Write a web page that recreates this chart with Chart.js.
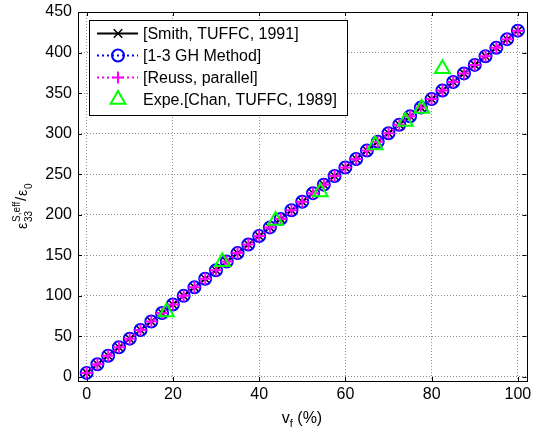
<!DOCTYPE html>
<html>
<head>
<meta charset="utf-8">
<script src="https://cdn.jsdelivr.net/npm/chart.js@4.4.0/dist/chart.umd.min.js"></script>
<style>
    html, body { margin: 0; padding: 0; background: #fff; }
    #wrap { width: 537px; height: 437px; }
</style>
</head>
<body>
<div id="wrap"><canvas id="chart" width="537" height="437"></canvas></div>
<script>
// volume fraction of ceramic (%)
const volFrac = [0, 2.5, 5, 7.5, 10, 12.5, 15, 17.5, 20, 22.5, 25, 27.5, 30, 32.5, 35, 37.5, 40,
    42.5, 45, 47.5, 50, 52.5, 55, 57.5, 60, 62.5, 65, 67.5, 70, 72.5, 75, 77.5, 80,
    82.5, 85, 87.5, 90, 92.5, 95, 97.5, 100];

// the three models lie on top of each other in the picture
const smithVals = [5.0, 15.6, 26.1, 36.7, 47.2, 57.8, 68.3, 78.9, 89.4, 100.0, 110.5, 121.1, 131.6,
    142.2, 152.7, 163.3, 173.8, 184.4, 194.9, 205.5, 216.0, 226.6, 237.1, 247.7, 258.2, 268.8,
    279.3, 289.9, 300.4, 311.0, 321.5, 332.1, 342.6, 353.2, 363.7, 374.3, 384.8, 395.4, 405.9,
    416.5, 427.0];
const ghVals = [5.0, 15.6, 26.1, 36.7, 47.2, 57.8, 68.3, 78.9, 89.4, 100.0, 110.5, 121.1, 131.6,
    142.2, 152.7, 163.3, 173.8, 184.4, 194.9, 205.5, 216.0, 226.6, 237.1, 247.7, 258.2, 268.8,
    279.3, 289.9, 300.4, 311.0, 321.5, 332.1, 342.6, 353.2, 363.7, 374.3, 384.8, 395.4, 405.9,
    416.5, 427.0];
const reussVals = [5.0, 15.6, 26.1, 36.7, 47.2, 57.8, 68.3, 78.9, 89.4, 100.0, 110.5, 121.1, 131.6,
    142.2, 152.7, 163.3, 173.8, 184.4, 194.9, 205.5, 216.0, 226.6, 237.1, 247.7, 258.2, 268.8,
    279.3, 289.9, 300.4, 311.0, 321.5, 332.1, 342.6, 353.2, 363.7, 374.3, 384.8, 395.4, 405.9,
    416.5, 427.0];

// measurements
const expeX = [18.5, 31.5, 43.8, 54.2, 66.9, 73.9, 77.7, 82.5];
const expeY = [80, 142, 193, 228, 286, 315, 331, 380];

const xTicks = [0, 20, 40, 60, 80, 100];
const yTicks = [0, 50, 100, 150, 200, 250, 300, 350, 400, 450];
const seriesLabels = ['[Smith, TUFFC, 1991]', '[1-3 GH Method]', '[Reuss, parallel]', 'Expe.[Chan, TUFFC, 1989]'];

const FONT = "Arial, 'Liberation Sans', sans-serif";

function toPoints(xs, ys) {
    return xs.map((x, i) => ({ x: x, y: ys[i] }));
}

// rotated label, pieces placed along the text direction starting at the bottom
function drawYLabel(ctx) {
    const big = '14px ' + FONT;
    const small = '10px ' + FONT;
    ctx.save();
    ctx.translate(27, 229);
    ctx.rotate(-Math.PI / 2);
    ctx.fillStyle = '#000';
    ctx.textAlign = 'left';
    ctx.textBaseline = 'alphabetic';
    ctx.font = big;
    ctx.fillText('\u03b5', 0, 0);
    ctx.font = small;
    ctx.fillText('S,eff', 7, -7);
    ctx.fillText('33', 7, 5);
    ctx.font = '15px ' + FONT;
    ctx.fillText('/', 28, -1);
    ctx.font = big;
    ctx.fillText('\u03b5', 33, 0);
    ctx.font = small;
    ctx.fillText('0', 40, 5);
    ctx.restore();
}

function drawXLabel(ctx) {
    const big = '16px ' + FONT;
    const small = '11px ' + FONT;
    ctx.save();
    ctx.fillStyle = '#000';
    ctx.textAlign = 'left';
    ctx.textBaseline = 'alphabetic';
    ctx.font = big;
    const wV = ctx.measureText('v').width;
    const wRest = ctx.measureText(' (%)').width;
    ctx.font = small;
    const wF = ctx.measureText('f').width;
    let x = 302 - (wV + wF + wRest) / 2;
    ctx.font = big;
    ctx.fillText('v', x, 423);
    x += wV;
    ctx.font = small;
    ctx.fillText('f', x, 427);
    x += wF;
    ctx.font = big;
    ctx.fillText(' (%)', x, 423);
    ctx.restore();
}

function drawLegend(chart) {
    const ctx = chart.ctx;
    const box = { left: 89, top: 20, right: 347, bottom: 115 };
    ctx.save();
    ctx.fillStyle = '#fff';
    ctx.fillRect(box.left, box.top, box.right - box.left, box.bottom - box.top);
    ctx.strokeStyle = '#000';
    ctx.lineWidth = 1;
    ctx.strokeRect(box.left + 0.5, box.top + 0.5, box.right - box.left, box.bottom - box.top);

    chart.data.datasets.forEach((ds, i) => {
        const y = 33.5 + i * 22;
        if (ds.showLine) {
            ctx.beginPath();
            ctx.setLineDash(ds.borderDash || []);
            ctx.strokeStyle = ds.borderColor;
            ctx.lineWidth = ds.borderWidth;
            ctx.moveTo(97, y);
            ctx.lineTo(138, y);
            ctx.stroke();
        }
        ctx.setLineDash([]);
        ctx.strokeStyle = ds.pointBorderColor;
        ctx.fillStyle = 'rgba(0,0,0,0)';
        ctx.lineWidth = ds.pointBorderWidth;
        Chart.helpers.drawPoint(ctx, {
            pointStyle: ds.pointStyle,
            radius: ds.pointRadius,
            rotation: 0,
            borderWidth: ds.pointBorderWidth
        }, 118, y);
        ctx.fillStyle = '#000';
        ctx.font = '16px ' + FONT;
        ctx.textAlign = 'left';
        ctx.textBaseline = 'middle';
        ctx.fillText(ds.label, 143, y + 1);
    });
    ctx.restore();
}

const framePlugin = {
    id: 'matlabFrame',
    afterDatasetsDraw(chart) {
        const ctx = chart.ctx;
        const a = chart.chartArea;
        const xs = chart.scales.x;
        const ys = chart.scales.y;
        ctx.save();
        ctx.strokeStyle = '#000';
        ctx.lineWidth = 1;
        ctx.setLineDash([]);
        ctx.beginPath();
        xTicks.forEach(v => {
            const px = Math.round(xs.getPixelForValue(v)) + 0.5;
            ctx.moveTo(px, a.bottom); ctx.lineTo(px, a.bottom - 4);
            ctx.moveTo(px, a.top); ctx.lineTo(px, a.top + 4);
        });
        yTicks.forEach(v => {
            const py = Math.round(ys.getPixelForValue(v)) + 0.5;
            ctx.moveTo(a.left, py); ctx.lineTo(a.left + 4, py);
            ctx.moveTo(a.right, py); ctx.lineTo(a.right - 4, py);
        });
        ctx.stroke();
        ctx.strokeRect(Math.round(a.left) + 0.5, Math.round(a.top) + 0.5,
            Math.round(a.right - a.left), Math.round(a.bottom - a.top));
        ctx.restore();
    },
    afterDraw(chart) {
        drawLegend(chart);
        drawYLabel(chart.ctx);
        drawXLabel(chart.ctx);
    }
};

const chart = new Chart(document.getElementById('chart').getContext('2d'), {
    type: 'scatter',
    data: {
        datasets: [
            {
                label: seriesLabels[0],
                data: toPoints(volFrac, smithVals),
                showLine: true,
                borderColor: '#000',
                borderWidth: 2,
                pointStyle: 'crossRot',
                pointRadius: 6,
                pointBorderColor: '#000',
                pointBorderWidth: 1.5,
                pointBackgroundColor: 'rgba(0,0,0,0)',
                order: 4
            },
            {
                label: seriesLabels[1],
                data: toPoints(volFrac, ghVals),
                showLine: true,
                borderColor: '#0000ff',
                borderWidth: 2,
                borderDash: [2, 3],
                pointStyle: 'circle',
                pointRadius: 6,
                pointBorderColor: '#0000ff',
                pointBorderWidth: 2,
                pointBackgroundColor: 'rgba(0,0,0,0)',
                order: 3
            },
            {
                label: seriesLabels[2],
                data: toPoints(volFrac, reussVals),
                showLine: true,
                borderColor: '#ff00ff',
                borderWidth: 2,
                borderDash: [2, 3],
                pointStyle: 'cross',
                pointRadius: 6,
                pointBorderColor: '#ff00ff',
                pointBorderWidth: 2,
                pointBackgroundColor: 'rgba(0,0,0,0)',
                order: 2
            },
            {
                label: seriesLabels[3],
                data: toPoints(expeX, expeY),
                showLine: false,
                pointStyle: 'triangle',
                pointRadius: 8.5,
                pointBorderColor: '#00ff00',
                pointBorderWidth: 2,
                pointBackgroundColor: 'rgba(0,0,0,0)',
                order: 1
            }
        ]
    },
    options: {
        responsive: false,
        animation: false,
        devicePixelRatio: 1,
        events: [],
        layout: { padding: { top: 12, right: 7, left: 0, bottom: 0 } },
        plugins: {
            legend: { display: false },
            tooltip: { enabled: false }
        },
        scales: {
            x: {
                type: 'linear',
                min: -2,
                max: 102,
                afterBuildTicks: scale => { scale.ticks = xTicks.map(v => ({ value: v })); },
                afterFit: scale => {
                    scale.height = 56;
                    scale.paddingLeft = 0;
                    scale.paddingRight = 0;
                },
                ticks: {
                    color: '#000',
                    padding: 4,
                    maxRotation: 0,
                    font: { family: FONT, size: 16 }
                },
                grid: { color: '#8c8c8c', lineWidth: 1, drawTicks: false },
                border: { display: false, dash: [1, 2] }
            },
            y: {
                type: 'linear',
                min: -5,
                max: 450,
                afterBuildTicks: scale => { scale.ticks = yTicks.map(v => ({ value: v })); },
                afterFit: scale => {
                    scale.width = 78;
                    scale.paddingTop = 0;
                    scale.paddingBottom = 0;
                },
                ticks: {
                    color: '#000',
                    padding: 6,
                    font: { family: FONT, size: 16 }
                },
                grid: { color: '#8c8c8c', lineWidth: 1, drawTicks: false },
                border: { display: false, dash: [1, 2] }
            }
        }
    },
    plugins: [framePlugin]
});
</script>
</body>
</html>
